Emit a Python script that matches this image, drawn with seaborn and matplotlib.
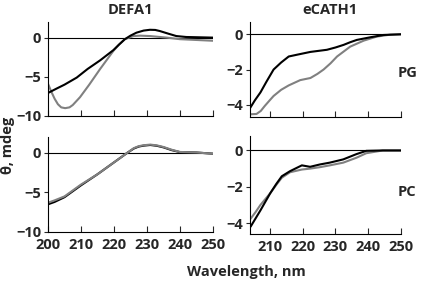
import numpy as np
import pandas as pd
import matplotlib
matplotlib.use('Agg')
import matplotlib.pyplot as plt
import seaborn as sns

# DEFA1 / PG
defa_pg_x = [200, 202.6, 205, 208.7, 212, 215.8, 219.8, 221.5, 223.3, 225, 226.8, 229, 230.9, 232.5, 233.9, 236.5, 238.9, 241.9, 245, 250]
defa_pg_black = [-7.06, -6.5, -6.0, -5.1, -4.0, -2.9, -1.6, -0.9, -0.2, 0.25, 0.63, 0.9, 1.0, 0.98, 0.84, 0.5, 0.2, 0.08, 0.05, 0.0]
defa_pg_gx = [200, 201, 202, 203, 204, 205.2, 206.5, 207.5, 209.7, 212.5, 215.8, 219.8, 221.5, 223.3, 225.9, 228, 230.9, 236, 240, 245, 250]
defa_pg_gray = [-5.9, -6.9, -7.8, -8.5, -8.9, -9.0, -8.9, -8.6, -7.6, -6.0, -4.0, -1.7, -0.9, -0.2, 0.2, 0.25, 0.2, 0.0, -0.2, -0.3, -0.4]

# DEFA1 / PC
defa_pc_x = [200, 202, 205, 210, 215, 220, 222, 224, 226, 227.5, 229, 231, 233, 235, 237.5, 240, 245, 250]
defa_pc_black = [-6.5, -6.2, -5.6, -4.1, -2.7, -1.2, -0.6, 0.0, 0.55, 0.8, 0.92, 1.0, 0.9, 0.7, 0.35, 0.1, 0.05, -0.1]
defa_pc_gray = [-6.3, -6.0, -5.5, -4.0, -2.7, -1.2, -0.6, 0.0, 0.6, 0.85, 0.97, 1.05, 0.95, 0.75, 0.4, 0.12, 0.05, -0.1]

# eCATH1 / PG
cath_pg_bx = [204.1, 205.5, 207.2, 209, 211.2, 213.5, 215.8, 218.3, 222.4, 227.4, 230, 232.5, 234.5, 236.5, 240.6, 244.6, 250]
cath_pg_black = [-4.17, -3.75, -3.3, -2.7, -2.0, -1.6, -1.26, -1.16, -1.0, -0.88, -0.75, -0.6, -0.45, -0.32, -0.17, -0.04, 0.0]
cath_pg_gx = [204, 206, 207.3, 208.5, 210, 211.2, 213.5, 215.8, 219.3, 222.4, 224.5, 226.4, 228.5, 230.5, 234.5, 238.6, 242.6, 246.7, 250]
cath_pg_gray = [-4.54, -4.52, -4.35, -4.07, -3.75, -3.5, -3.15, -2.9, -2.6, -2.48, -2.25, -2.0, -1.65, -1.26, -0.7, -0.36, -0.13, -0.02, 0.0]

# eCATH1 / PC
cath_pc_x = [204.2, 205.7, 207.2, 210.2, 212, 213.7, 216.2, 219.8, 222.3, 225.3, 228.3, 232.4, 236.4, 239.4, 244.4, 250]
cath_pc_black = [-4.2, -3.75, -3.3, -2.35, -1.85, -1.42, -1.14, -0.82, -0.9, -0.77, -0.67, -0.49, -0.2, -0.02, 0.0, 0.0]
cath_pc_gray = [-3.76, -3.4, -3.0, -2.35, -1.9, -1.5, -1.2, -1.05, -1.0, -0.92, -0.82, -0.67, -0.4, -0.15, 0.0, 0.0]

sns.set_style('white')
plt.rcParams['font.family'] = ['Open Sans', 'DejaVu Sans']
plt.rcParams['font.weight'] = 'bold'

fig = plt.figure(figsize=(4.25, 2.85), dpi=100)
ax_tl = fig.add_axes([0.113, 0.593, 0.388, 0.330])
ax_bl = fig.add_axes([0.113, 0.186, 0.388, 0.333])
ax_tr = fig.add_axes([0.588, 0.589, 0.356, 0.334])
ax_br = fig.add_axes([0.588, 0.179, 0.356, 0.344])

BLACK = '#000000'
GRAY = '#808080'
lw = 1.5

sns.lineplot(x=defa_pg_gx, y=defa_pg_gray, color=GRAY, lw=lw, ax=ax_tl)
sns.lineplot(x=defa_pg_x, y=defa_pg_black, color=BLACK, lw=lw, ax=ax_tl)
sns.lineplot(x=defa_pc_x, y=defa_pc_black, color=BLACK, lw=lw, ax=ax_bl)
sns.lineplot(x=defa_pc_x, y=defa_pc_gray, color=GRAY, lw=lw, ax=ax_bl)
sns.lineplot(x=cath_pg_gx, y=cath_pg_gray, color=GRAY, lw=lw, ax=ax_tr)
sns.lineplot(x=cath_pg_bx, y=cath_pg_black, color=BLACK, lw=lw, ax=ax_tr)
sns.lineplot(x=cath_pc_x, y=cath_pc_gray, color=GRAY, lw=lw, ax=ax_br)
sns.lineplot(x=cath_pc_x, y=cath_pc_black, color=BLACK, lw=lw, ax=ax_br)

for ax in [ax_tl, ax_bl]:
    ax.set_xlim(200, 250)
    ax.set_ylim(-10, 2)
    ax.set_yticks([0, -5, -10])
    ax.set_xticks([200, 210, 220, 230, 240, 250])
for ax in [ax_tr, ax_br]:
    ax.set_xlim(204, 250)
    ax.set_yticks([0, -2, -4])
    ax.set_xticks([210, 220, 230, 240, 250])
ax_tr.set_ylim(-4.7, 0.7)
ax_br.set_ylim(-4.6, 0.8)

for ax in [ax_tl, ax_bl, ax_tr, ax_br]:
    ax.axhline(0, color='black', lw=0.8, zorder=0)
    sns.despine(ax=ax)
    ax.spines['left'].set_linewidth(0.8)
    ax.spines['bottom'].set_linewidth(0.8)
    ax.spines['left'].set_color('black')
    ax.spines['bottom'].set_color('black')
    ax.tick_params(axis='x', direction='in', length=4, width=0.8, bottom=True, labelsize=10.5, pad=4)
    ax.tick_params(axis='y', direction='out', length=3, width=0.8, left=True, labelsize=10.5, pad=2)
    ax.set_xlabel('')
    ax.set_ylabel('')
    for lab in ax.get_xticklabels() + ax.get_yticklabels():
        lab.set_fontweight('bold')

ax_tl.tick_params(axis='x', labelbottom=False)
ax_tr.tick_params(axis='x', labelbottom=False)

fig.text(0.307, 0.965, 'DEFA1', ha='center', va='center', fontsize=10.5, fontweight='bold')
fig.text(0.777, 0.965, 'eCATH1', ha='center', va='center', fontsize=10.5, fontweight='bold')
fig.text(0.958, 0.745, 'PG', ha='center', va='center', fontsize=10.5, fontweight='bold')
fig.text(0.958, 0.328, 'PC', ha='center', va='center', fontsize=10.5, fontweight='bold')
fig.text(0.02, 0.49, 'θ, mdeg', ha='center', va='center', rotation=90, fontsize=10.5, fontweight='bold')
fig.text(0.58, 0.045, 'Wavelength, nm', ha='center', va='center', fontsize=10.5, fontweight='bold')

fig.savefig('out.png', dpi=100)
